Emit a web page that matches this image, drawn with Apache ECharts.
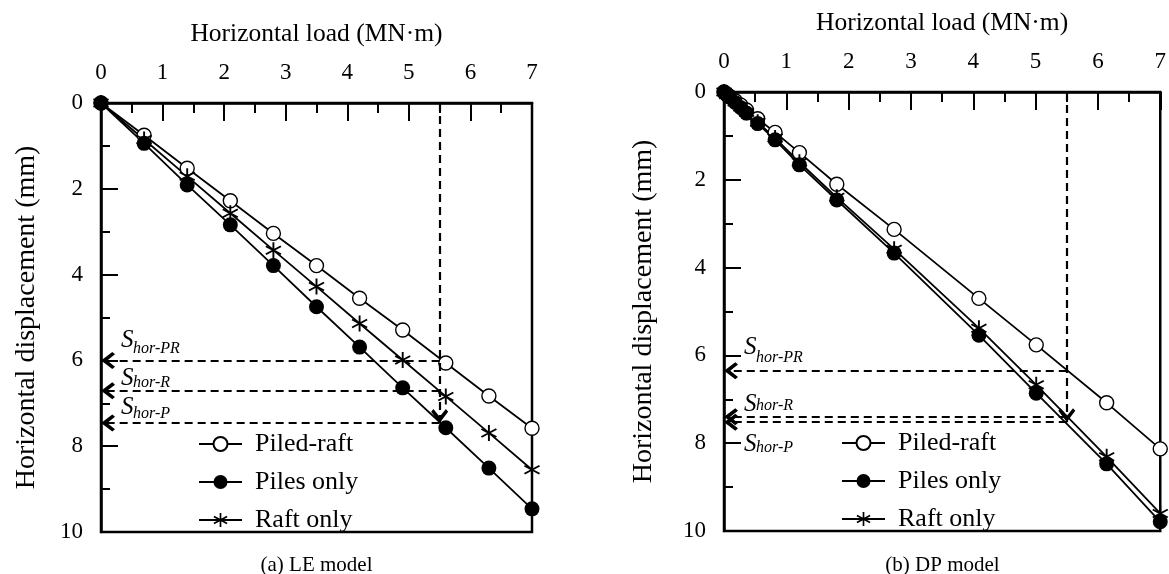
<!DOCTYPE html>
<html>
<head>
<meta charset="utf-8">
<script src="https://cdn.jsdelivr.net/npm/echarts@6/dist/echarts.min.js"></script>
<style>
  html, body { margin: 0; padding: 0; background: #fff; }
  #chart { width: 1169px; height: 574px; }
</style>
</head>
<body>
<div id="chart"></div>
<script>
// ---- data ------------------------------------------------------------
// (a) LE model: horizontal load (MN·m) vs horizontal displacement (mm)
const leLoad      = [0, 0.7, 1.4, 2.1, 2.8, 3.5, 4.2, 4.9, 5.6, 6.3, 7.0];
const lePiledRaft = [0, 0.75, 1.52, 2.28, 3.04, 3.79, 4.55, 5.29, 6.06, 6.83, 7.58];
const lePilesOnly = [0, 0.94, 1.91, 2.84, 3.79, 4.75, 5.69, 6.64, 7.57, 8.51, 9.46];
const leRaftOnly  = [0, 0.85, 1.71, 2.57, 3.43, 4.28, 5.14, 5.99, 6.84, 7.69, 8.55];

// (b) DP model
const dpLoad      = [0, 0.045, 0.09, 0.18, 0.27, 0.36, 0.54, 0.82, 1.21, 1.81, 2.73, 4.09, 5.01, 6.14, 7.0];
const dpPiledRaft = [0, 0.05, 0.10, 0.20, 0.30, 0.41, 0.61, 0.92, 1.38, 2.10, 3.13, 4.70, 5.76, 7.08, 8.13];
const dpPilesOnly = [0, 0.06, 0.12, 0.24, 0.36, 0.48, 0.72, 1.09, 1.66, 2.46, 3.67, 5.54, 6.86, 8.47, 9.79];
const dpRaftOnly  = [0, 0.06, 0.11, 0.23, 0.34, 0.46, 0.69, 1.05, 1.60, 2.40, 3.58, 5.38, 6.67, 8.31, 9.60];

// reference load level and the displacements read at it
const refLoad   = 5.5;
const leShorPR  = 6.0,  leShorR = 6.71, leShorP = 7.46;
const dpShorPR  = 6.35, dpShorR = 7.40, dpShorP = 7.52;

// tick labels
const loadTicks = [0, 1, 2, 3, 4, 5, 6, 7];
const dispTicks = [0, 2, 4, 6, 8, 10];

const seriesNames = ['Piled-raft', 'Piles only', 'Raft only'];

// ---- styling ---------------------------------------------------------
const FONT = '"Liberation Serif", "Times New Roman", Times, serif';

// six-armed asterisk built from three bars
const STAR = 'path://M-1.1,-10L1.1,-10L1.1,10L-1.1,10Z' +
             'M8.11,-5.95L9.21,-4.05L-8.11,5.95L-9.21,4.05Z' +
             'M9.21,4.05L8.11,5.95L-9.21,-4.05L-8.11,-5.95Z';
// open chevron arrow head, tip at the symbol centre
const CHEVRON = 'path://M0,-12L0.01,-12L0,-11.99Z' +
                'M0,0L9,9.5L6.6,11.8L0,5.2L-6.6,11.8L-9,9.5Z';

const markerStyles = {
  'Piled-raft': { symbol: 'circle', symbolSize: 14,
                  itemStyle: { color: '#fff', borderColor: '#000', borderWidth: 1.4 } },
  'Piles only': { symbol: 'circle', symbolSize: 15,
                  itemStyle: { color: '#000', borderColor: '#000', borderWidth: 0 } },
  'Raft only':  { symbol: STAR, symbolSize: [16, 16],
                  itemStyle: { color: '#000', borderColor: '#000', borderWidth: 0 } }
};

const grids = [
  { left: 101, top: 103, width: 431, height: 429 },
  { left: 724, top: 92,  width: 437, height: 439 }
];

function xAxisFor(i) {
  return {
    type: 'value', gridIndex: i, position: 'top',
    min: loadTicks[0], max: loadTicks[loadTicks.length - 1],
    interval: loadTicks[1] - loadTicks[0],
    name: 'Horizontal load (MN·m)', nameLocation: 'middle', nameGap: 56,
    nameTextStyle: { fontFamily: FONT, fontSize: 25.5, color: '#000' },
    axisLine: { show: true, onZero: false, lineStyle: { color: '#000', width: 2.5 } },
    axisTick: { show: true, inside: true, length: 18, lineStyle: { color: '#000', width: 2 } },
    minorTick: { show: true, splitNumber: 2, length: 10, lineStyle: { color: '#000', width: 2 } },
    axisLabel: { fontFamily: FONT, fontSize: 23, color: '#000', margin: 19 },
    splitLine: { show: false }, minorSplitLine: { show: false }
  };
}

function yAxisFor(i, gap) {
  return {
    type: 'value', gridIndex: i, inverse: true,
    min: dispTicks[0], max: dispTicks[dispTicks.length - 1],
    interval: dispTicks[1] - dispTicks[0],
    name: 'Horizontal displacement (mm)', nameLocation: 'middle', nameGap: gap,
    nameTextStyle: { fontFamily: FONT, fontSize: 28, color: '#000' },
    axisLine: { show: true, onZero: false, lineStyle: { color: '#000', width: 2.5 } },
    axisTick: { show: true, inside: true, length: 17, lineStyle: { color: '#000', width: 2 } },
    minorTick: { show: true, splitNumber: 2, length: 9, lineStyle: { color: '#000', width: 2 } },
    axisLabel: { fontFamily: FONT, fontSize: 23, color: '#000', margin: 18 },
    splitLine: { show: false }, minorSplitLine: { show: false }
  };
}

function curve(name, load, disp, i) {
  const m = markerStyles[name];
  return {
    name, type: 'line', xAxisIndex: i, yAxisIndex: i,
    data: load.map((x, k) => [x, disp[k]]),
    symbol: m.symbol, symbolSize: m.symbolSize, showSymbol: true,
    itemStyle: m.itemStyle,
    lineStyle: { color: '#000', width: 1.8 },
    emphasis: { disabled: true },
    animation: false, silent: true
  };
}

function guideLines(pr, r, p) {
  return {
    silent: true, animation: false,
    symbol: ['none', CHEVRON], symbolSize: [17, 28],
    label: { show: false },
    lineStyle: { color: '#000', width: 2.2, type: [8, 5] },
    emphasis: { disabled: true },
    data: [
      [{ coord: [refLoad, 0] },  { coord: [refLoad, p] }],
      [{ coord: [refLoad, pr] }, { coord: [0, pr] }],
      [{ coord: [refLoad, r] },  { coord: [0, r] }],
      [{ coord: [refLoad, p] },  { coord: [0, p] }]
    ]
  };
}

function legendAt(left, top) {
  return {
    orient: 'vertical', left, top,
    data: seriesNames,
    itemWidth: 43, itemHeight: 17.5, itemGap: 12,
    selectedMode: false,
    textStyle: { fontFamily: FONT, fontSize: 26, color: '#000', lineHeight: 26,
                 padding: [0, 0, 0, 8] }
  };
}

const leSeries = [
  curve('Piled-raft', leLoad, lePiledRaft, 0),
  curve('Piles only', leLoad, lePilesOnly, 0),
  curve('Raft only',  leLoad, leRaftOnly,  0)
];
leSeries[0].markLine = guideLines(leShorPR, leShorR, leShorP);

const dpSeries = [
  curve('Piled-raft', dpLoad, dpPiledRaft, 1),
  curve('Piles only', dpLoad, dpPilesOnly, 1),
  curve('Raft only',  dpLoad, dpRaftOnly,  1)
];
dpSeries[0].markLine = guideLines(dpShorPR, dpShorR, dpShorP);

const chart = echarts.init(document.getElementById('chart'), null, { renderer: 'canvas' });

chart.setOption({
  animation: false,
  backgroundColor: '#fff',
  grid: grids.map(g => Object.assign({ show: true, borderColor: '#000', borderWidth: 2.5,
                                        backgroundColor: 'transparent' }, g)),
  xAxis: [xAxisFor(0), xAxisFor(1)],
  yAxis: [yAxisFor(0, 60), yAxisFor(1, 66)],
  legend: [legendAt(193, 426), legendAt(836, 425)],
  series: leSeries.concat(dpSeries)
});

// ---- annotations: S labels and panel captions ----------------------
function sLabel(gridIndex, dispValue, sub, dyS, dySub) {
  const p = chart.convertToPixel({ gridIndex }, [0, dispValue]);
  const x0 = p[0] + 20;
  return [
    { type: 'text', silent: true, z: 100,
      style: { text: 'S', x: x0, y: p[1] + dyS, fill: '#000',
               font: 'italic 25px ' + FONT, textAlign: 'left', textVerticalAlign: 'middle' } },
    { type: 'text', silent: true, z: 100,
      style: { text: sub, x: x0 + 12, y: p[1] + dySub, fill: '#000',
               font: 'italic 16px ' + FONT, textAlign: 'left', textVerticalAlign: 'middle' } }
  ];
}

function caption(gridIndex, text) {
  const g = grids[gridIndex];
  return { type: 'text', silent: true,
           style: { text, x: g.left + g.width / 2, y: 565, fill: '#000',
                    font: '21px ' + FONT, textAlign: 'center', textVerticalAlign: 'middle' } };
}

chart.setOption({
  graphic: [].concat(
    sLabel(0, leShorPR, 'hor-PR', -20, -12),
    sLabel(0, leShorR,  'hor-R',  -12, -8),
    sLabel(0, leShorP,  'hor-P',  -16, -9),
    sLabel(1, dpShorPR, 'hor-PR', -23, -13),
    sLabel(1, dpShorR,  'hor-R',  -12, -11),
    sLabel(1, dpShorP,  'hor-P',   22, 26),
    [caption(0, '(a) LE model'), caption(1, '(b) DP model')]
  )
});
</script>
</body>
</html>
